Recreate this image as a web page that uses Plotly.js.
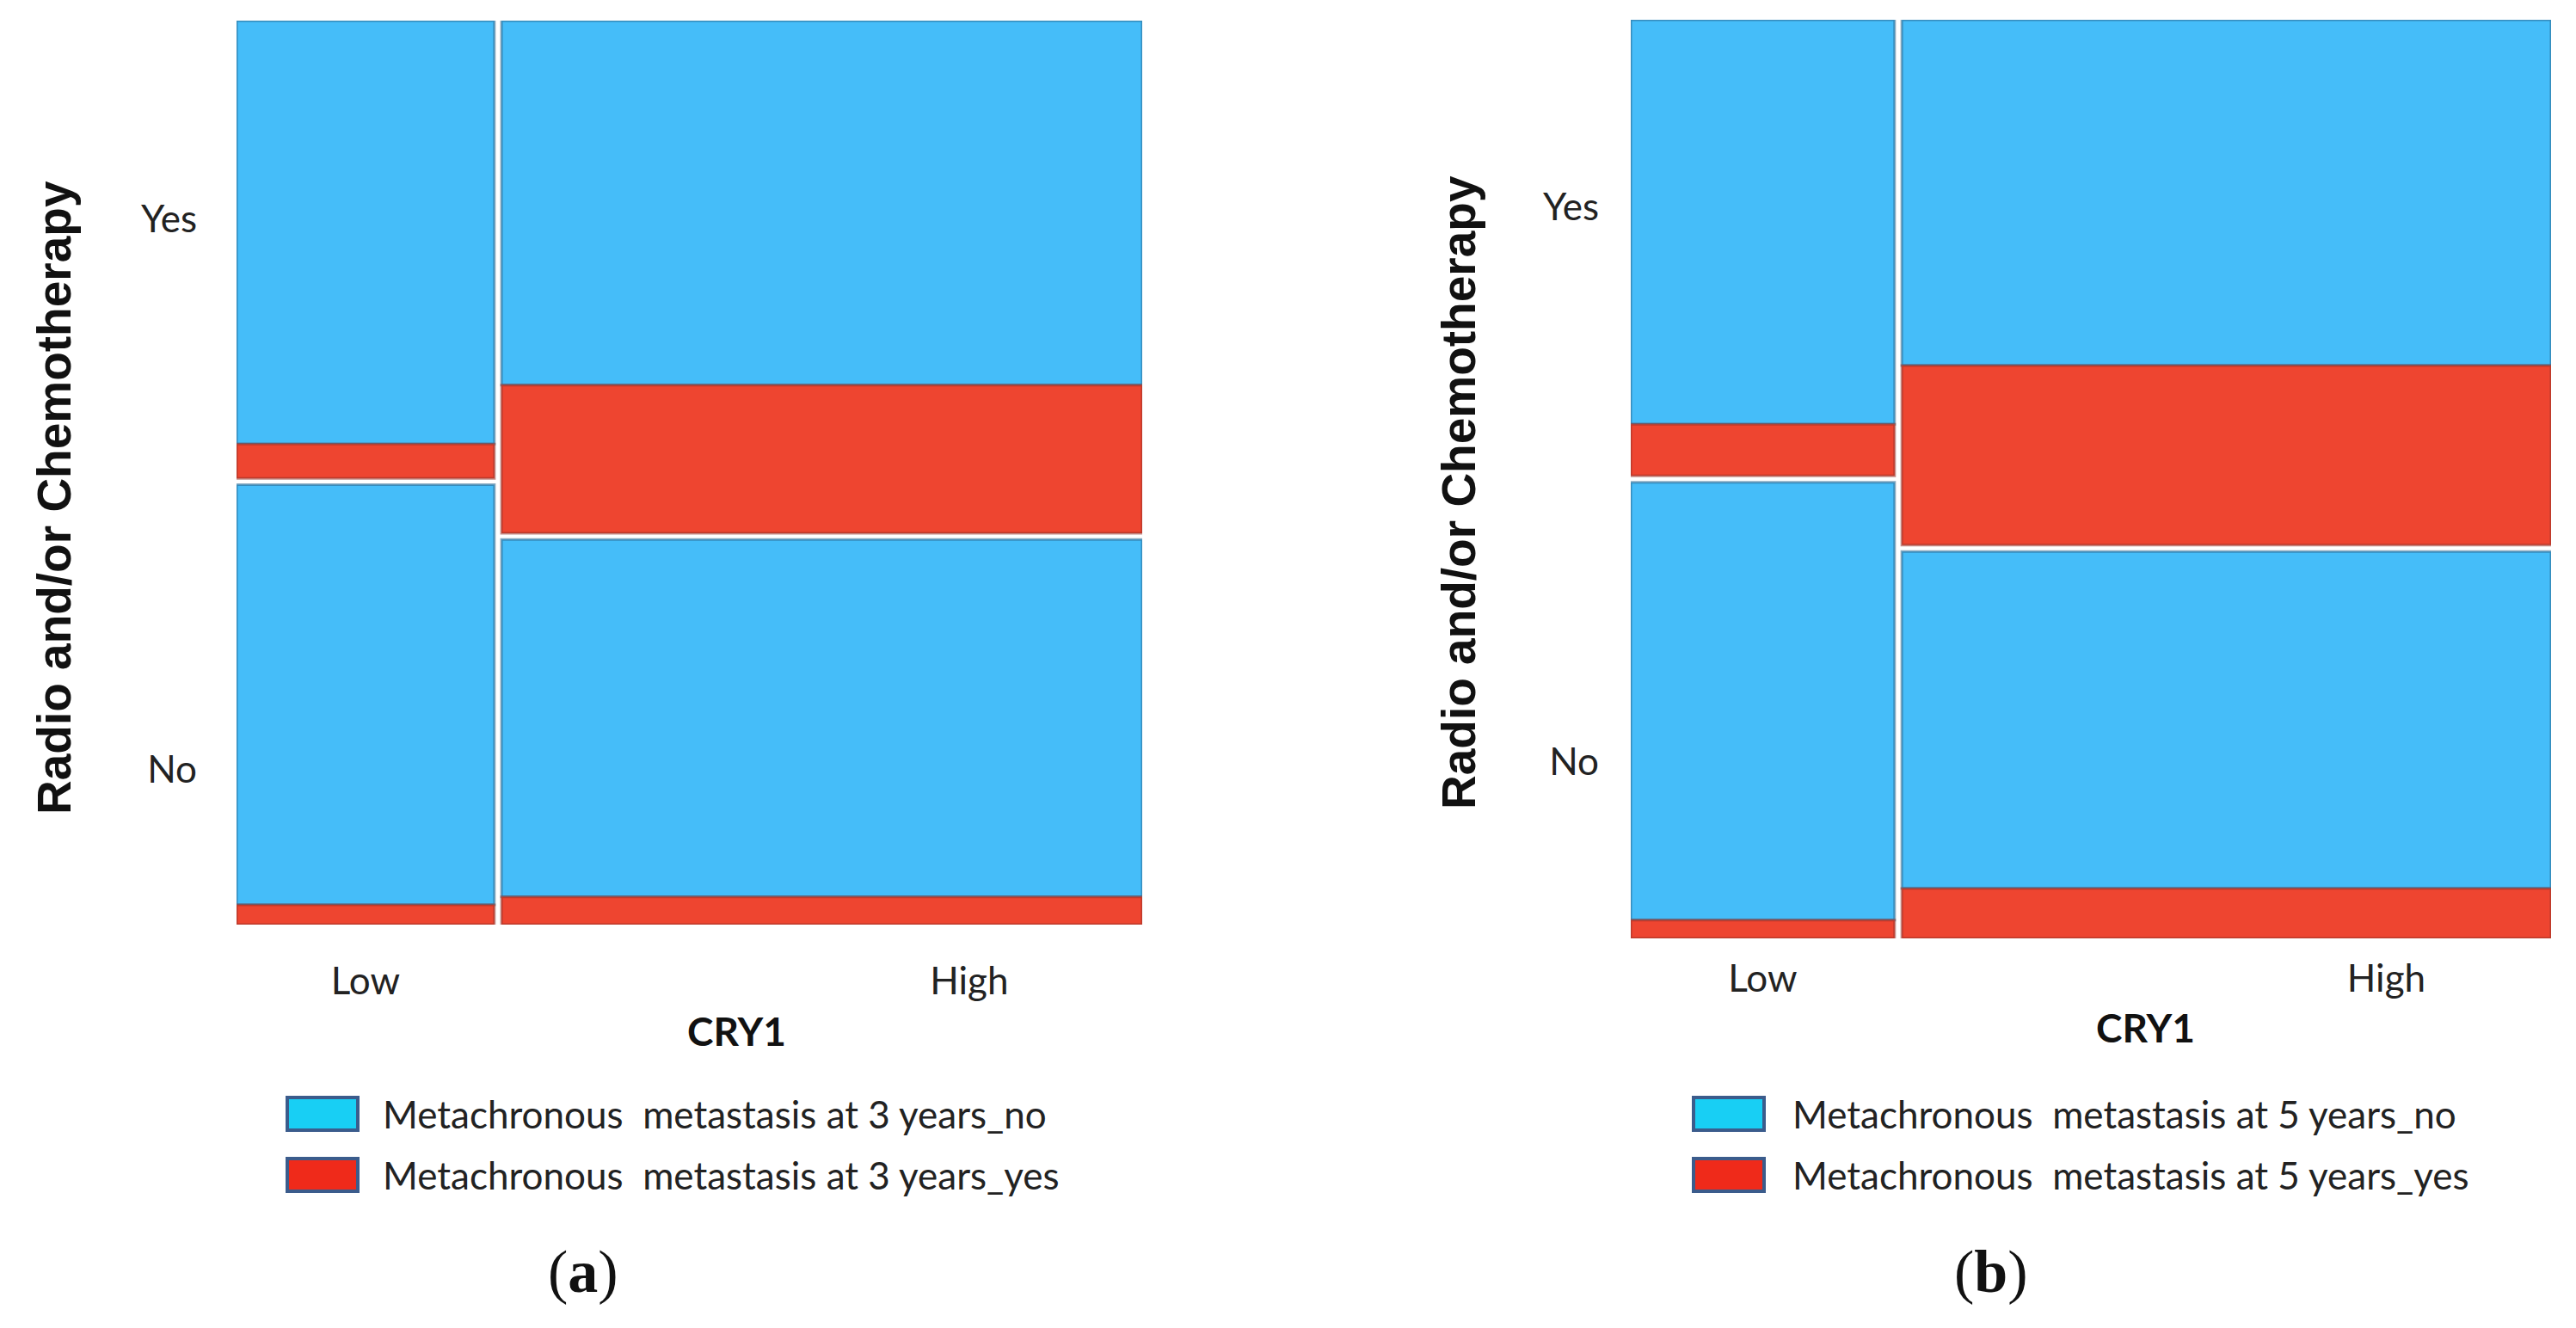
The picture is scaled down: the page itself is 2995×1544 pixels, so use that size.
<!DOCTYPE html>
<html>
<head>
<meta charset="utf-8">
<script src="https://cdn.plot.ly/plotly-3.0.1.min.js"></script>
<style>html,body{margin:0;padding:0;background:#fff;}#chart{width:2995px;height:1544px;}</style>
</head>
<body>
<div id="chart"></div>
<script>
// ---------- data ----------
const cry1Levels = ['Low', 'High'];
const therapyLevels = ['Yes', 'No'];
// (a) metachronous metastasis at 3 years
const colShareA = [0.287, 0.713];            // share of patients: CRY1 Low, High
const therapyYesShareA = [0.510, 0.571];     // share with radio/chemo within Low, High
const metaYesInTherapyYesA = [0.075, 0.289]; // metastasis share in therapy=Yes tile
const metaYesInTherapyNoA = [0.045, 0.072];  // metastasis share in therapy=No tile
// (b) metachronous metastasis at 5 years
const colShareB = [0.289, 0.711];
const therapyYesShareB = [0.500, 0.576];
const metaYesInTherapyYesB = [0.113, 0.342];
const metaYesInTherapyNoB = [0.040, 0.129];
const legendLabelsA = ['Metachronous  metastasis at 3 years_no', 'Metachronous  metastasis at 3 years_yes'];
const legendLabelsB = ['Metachronous  metastasis at 5 years_no', 'Metachronous  metastasis at 5 years_yes'];
const yTitle = 'Radio and/or Chemotherapy';
const xTitle = 'CRY1';
const panelLabels = ['(a)', '(b)'];

// ---------- style ----------
const W = 2995, H = 1544;
const BLUE = '#45BDF9', RED = '#EE4530';
const GX = 0.0078, GY = 0.007;
const tickFont = {family: 'Lato, "Open Sans", sans-serif', size: 44, color: '#222'};

function buildTiles(colShare, yesShare, redYes, redNo) {
  const usable = 1 - GX;
  const widths = colShare.map(s => s * usable);
  const lefts = [0, widths[0] + GX];
  const blue = {x: [], w: [], base: [], h: []};
  const red = {x: [], w: [], base: [], h: []};
  for (let c = 0; c < 2; c++) {
    const noH = (1 - yesShare[c]) * (1 - GY);
    const yesH = yesShare[c] * (1 - GY);
    const tiles = [{b: 0, h: noH, r: redNo[c]}, {b: noH + GY, h: yesH, r: redYes[c]}];
    const cx = lefts[c] + widths[c] / 2;
    tiles.forEach(t => {
      const rh = t.h * t.r;
      red.x.push(cx); red.w.push(widths[c]); red.base.push(t.b); red.h.push(rh);
      blue.x.push(cx); blue.w.push(widths[c]); blue.base.push(t.b + rh); blue.h.push(t.h - rh);
    });
  }
  return {blue, red, lowCenter: lefts[0] + widths[0] / 2};
}

const A = buildTiles(colShareA, therapyYesShareA, metaYesInTherapyYesA, metaYesInTherapyNoA);
const B = buildTiles(colShareB, therapyYesShareB, metaYesInTherapyYesB, metaYesInTherapyNoB);

function barTrace(t, color, edge, name, xa, ya) {
  return {type: 'bar', x: t.x, y: t.h, base: t.base, width: t.w, name: name,
    xaxis: xa, yaxis: ya, marker: {color: color, line: {color: edge, width: 3}},
    hoverinfo: 'name', showlegend: false};
}

const data = [
  barTrace(A.blue, BLUE, 'rgba(40,100,140,0.55)', legendLabelsA[0], 'x', 'y'),
  barTrace(A.red, RED, 'rgba(150,50,40,0.55)', legendLabelsA[1], 'x', 'y'),
  barTrace(B.blue, BLUE, 'rgba(40,100,140,0.55)', legendLabelsB[0], 'x2', 'y2'),
  barTrace(B.red, RED, 'rgba(150,50,40,0.55)', legendLabelsB[1], 'x2', 'y2')
];

const px = v => v / W, py = v => 1 - v / H;

function xAxis(domain, lowC, highPos, standoff) {
  return {domain: domain, range: [0, 1], showgrid: false, zeroline: false, showline: false,
    ticks: '', tickvals: [lowC, highPos], ticktext: cry1Levels, tickfont: tickFont,
    ticklabelstandoff: standoff, fixedrange: true};
}
function yAxis(domain, anchor, yesPos, noPos, standoff) {
  return {domain: domain, anchor: anchor, range: [0, 1], showgrid: false, zeroline: false, showline: false,
    ticks: '', tickvals: [yesPos, noPos], ticktext: therapyLevels, tickfont: tickFont,
    ticklabelstandoff: standoff, fixedrange: true};
}

const annotations = [];
const shapes = [];
function addDecor(titleX, titleY, cryX, cryY, legBoxX, legTextX, labels, panelX, panelLabel) {
  annotations.push({xref: 'paper', yref: 'paper', x: px(titleX), y: py(titleY), text: yTitle,
    textangle: -90, showarrow: false, xanchor: 'center', yanchor: 'middle',
    font: {family: '"Liberation Sans", Arial, sans-serif', size: 55, color: '#111', weight: 'bold'}});
  annotations.push({xref: 'paper', yref: 'paper', x: px(cryX), y: py(cryY), text: '<b>' + xTitle + '</b>',
    showarrow: false, xanchor: 'center', yanchor: 'middle',
    font: {family: 'Lato, "Open Sans", sans-serif', size: 46, color: '#111'}});
  const rows = [1295, 1366];
  const fills = ['#18CFF4', '#EF2A1A'];
  rows.forEach((ry, i) => {
    shapes.push({type: 'rect', xref: 'paper', yref: 'paper', x0: px(legBoxX), x1: px(legBoxX + 82),
      y0: py(ry - 19), y1: py(ry + 19), fillcolor: fills[i], line: {color: '#3B5C8C', width: 4}});
    annotations.push({xref: 'paper', yref: 'paper', x: px(legTextX), y: py(ry), text: labels[i],
      showarrow: false, xanchor: 'left', yanchor: 'middle',
      font: {family: 'Lato, "Open Sans", sans-serif', size: 44, color: '#222'}});
  });
  annotations.push({xref: 'paper', yref: 'paper', x: px(panelX), y: py(1478),
    text: '(<b>' + panelLabel.replace(/[()]/g, '') + '</b>)', showarrow: false,
    xanchor: 'center', yanchor: 'middle',
    font: {family: '"Liberation Serif", "Times New Roman", serif', size: 70, color: '#111'}});
}
addDecor(63, 579, 856, 1198, 334, 443, legendLabelsA, 678, panelLabels[0]);
addDecor(1696, 573, 2494, 1194, 1969, 2082, legendLabelsB, 2315, panelLabels[1]);

const layout = {
  width: W, height: H, margin: {l: 0, r: 0, t: 0, b: 0},
  paper_bgcolor: '#fff', plot_bgcolor: '#fff', showlegend: false, barmode: 'overlay',
  xaxis: xAxis([px(275), px(1328)], A.lowCenter, 0.809, 36),
  yaxis: yAxis([py(1075), py(24)], 'x', 0.781, 0.172, 45),
  xaxis2: xAxis([px(1896), px(2966)], B.lowCenter, 0.821, 17),
  yaxis2: yAxis([py(1091), py(23)], 'x2', 0.796, 0.192, 36),
  annotations: annotations, shapes: shapes
};
layout.xaxis2.anchor = 'y2';
layout.xaxis.anchor = 'y';

Plotly.newPlot('chart', data, layout, {staticPlot: true, displayModeBar: false});
</script>
</body>
</html>
